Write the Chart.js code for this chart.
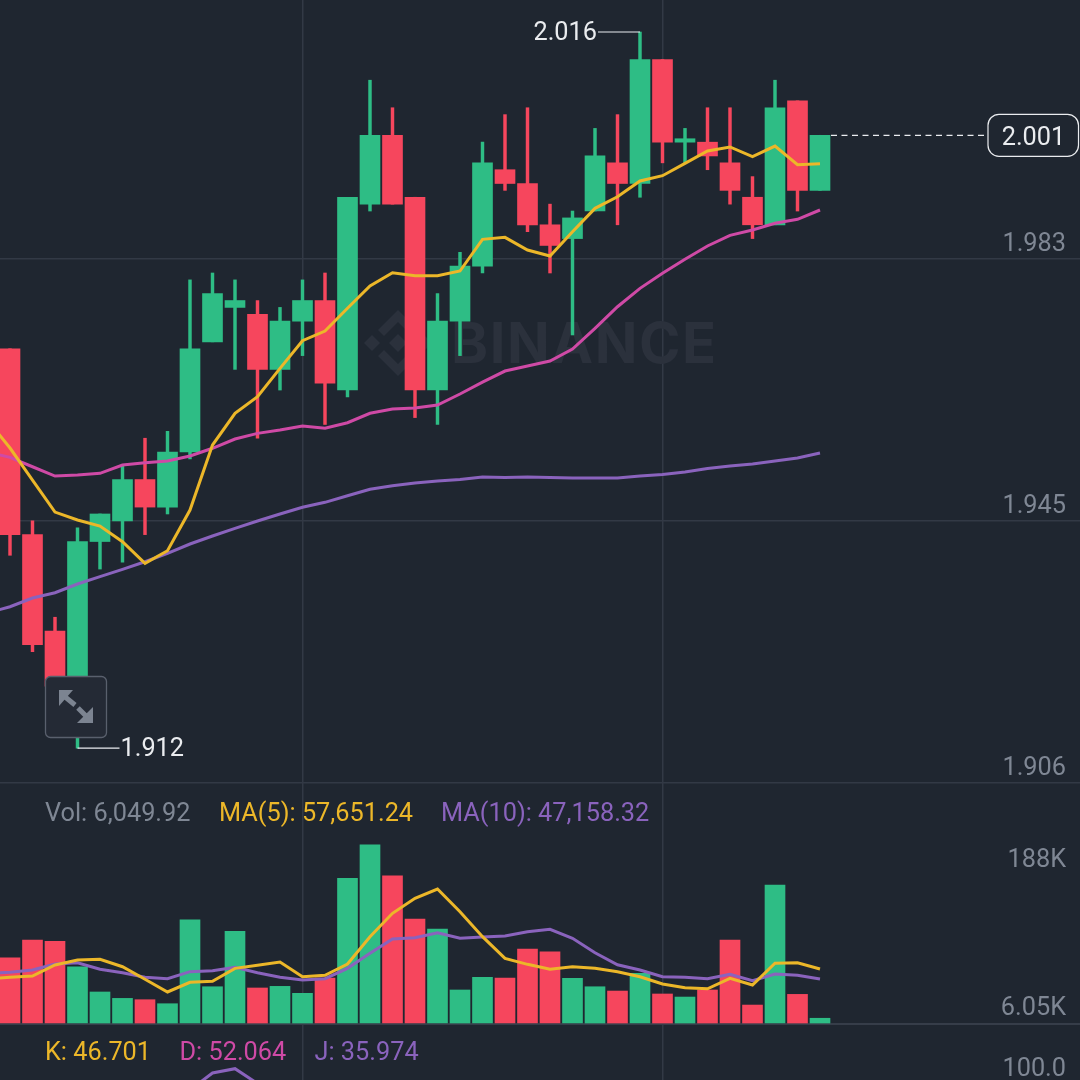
<!DOCTYPE html>
<html>
<head>
<meta charset="utf-8">
<title>Chart</title>
<script src="https://cdn.jsdelivr.net/npm/chart.js@4/dist/chart.umd.min.js"></script>
<style>
   html, body { margin: 0; padding: 0; background: #1f2630; }
   canvas { display: block; }
</style>
</head>
<body>
<canvas id="chartCanvas" width="1080" height="1080"></canvas>
<script>
const opens = [1.970, 1.943, 1.929, 1.921, 1.942, 1.945, 1.951, 1.947, 1.955, 1.971, 1.976, 1.975, 1.967, 1.974, 1.977, 1.964, 1.991, 2.001, 1.992, 1.964, 1.974, 1.982, 1.996, 1.994, 1.988, 1.986, 1.990, 1.997, 1.994, 2.012, 2.000, 2.000, 1.997, 1.992, 1.988, 2.006, 1.993];
const closes = [1.943, 1.927, 1.921, 1.942, 1.946, 1.951, 1.947, 1.955, 1.970, 1.978, 1.977, 1.967, 1.974, 1.977, 1.965, 1.992, 2.001, 1.991, 1.964, 1.974, 1.982, 1.997, 1.994, 1.988, 1.985, 1.989, 1.998, 1.994, 2.012, 2.000, 2.0005, 1.998, 1.993, 1.988, 2.005, 1.993, 2.001];
const highs = [1.970, 1.945, 1.931, 1.944, 1.946, 1.953, 1.957, 1.958, 1.980, 1.981, 1.980, 1.977, 1.976, 1.980, 1.981, 1.992, 2.009, 2.005, 1.992, 1.978, 1.984, 2.000, 2.004, 2.005, 1.991, 1.990, 2.002, 2.004, 2.016, 2.012, 2.002, 2.005, 2.005, 1.995, 2.009, 2.006, 2.001];
const lows = [1.940, 1.926, 1.920, 1.912, 1.938, 1.939, 1.943, 1.946, 1.954, 1.971, 1.967, 1.957, 1.964, 1.969, 1.959, 1.963, 1.990, 1.991, 1.960, 1.959, 1.969, 1.981, 1.993, 1.987, 1.981, 1.972, 1.990, 1.988, 1.992, 1.997, 1.997, 1.996, 1.991, 1.986, 1.988, 1.990, 1.993];

// the line arrays start one candle before the first visible one
const priceMa7 = [1.95965, 1.95558, 1.95093, 1.94628, 1.94512, 1.94425, 1.94197, 1.93883, 1.94066, 1.94657, 1.95601, 1.96062, 1.96303, 1.96715, 1.97116, 1.97257, 1.97587, 1.97911, 1.98104, 1.98060, 1.98060, 1.98129, 1.98589, 1.98618, 1.98434, 1.98347, 1.98700, 1.99039, 1.99208, 1.99436, 1.99513, 1.99693, 1.99872, 1.99930, 1.99789, 1.99944, 1.99673, 1.99687];
const priceMa25 = [1.95500, 1.95423, 1.95286, 1.95151, 1.95166, 1.95190, 1.95311, 1.95344, 1.95369, 1.95442, 1.95554, 1.95689, 1.95771, 1.95819, 1.95877, 1.95844, 1.95925, 1.96062, 1.96124, 1.96139, 1.96182, 1.96342, 1.96516, 1.96676, 1.96749, 1.96821, 1.96996, 1.97296, 1.97610, 1.97877, 1.98095, 1.98299, 1.98492, 1.98647, 1.98724, 1.98822, 1.98880, 1.99015];
const priceMa99 = [1.93161, 1.93253, 1.93379, 1.93456, 1.93583, 1.93689, 1.93796, 1.93906, 1.94028, 1.94164, 1.94280, 1.94392, 1.94498, 1.94599, 1.94697, 1.94769, 1.94865, 1.94958, 1.95010, 1.95050, 1.95079, 1.95100, 1.95137, 1.95129, 1.95137, 1.95129, 1.95122, 1.95122, 1.95122, 1.95151, 1.95173, 1.95209, 1.95260, 1.95296, 1.95325, 1.95369, 1.95413, 1.95485];

const volumes = [69.5, 88.1, 86.7, 60.1, 33.6, 26.9, 25.5, 21.3, 109.4, 39.1, 97.2, 37.8, 39.5, 32.2, 48.2, 152.8, 188, 155.5, 110.1, 99.6, 35.7, 49.0, 48.2, 78.7, 75.8, 47.9, 39.1, 34.6, 53.2, 31.5, 28.3, 35.7, 88.1, 19.9, 145.8, 31.1, 6.05];
const volumeMa5 = [47.2, 49.0, 50.3, 61.9, 67.1, 67.9, 60.1, 46.9, 33.6, 43.7, 44.8, 58.4, 61.6, 65.0, 49.6, 51.1, 62.9, 91.6, 116.1, 131.8, 141.6, 117.8, 91.6, 68.9, 62.6, 57.4, 60.1, 58.4, 54.9, 49.6, 42.0, 38.1, 37.0, 47.9, 40.9, 63.7, 64.3, 57.65];
const volumeMa10 = [53.5, 54.2, 56.6, 62.9, 64.3, 57.4, 53.8, 49.0, 47.5, 54.9, 55.9, 59.5, 53.8, 49.0, 46.1, 47.5, 58.4, 74.1, 89.1, 90.5, 95.8, 89.9, 91.2, 92.3, 96.8, 99.3, 89.9, 74.8, 62.2, 56.6, 49.6, 49.0, 47.5, 52.1, 45.4, 52.4, 51.1, 47.16];

// only the top of the J curve shows at the bottom edge
const jIndexes = [8, 9, 10, 11];
const jValues = [97, 105.5, 107.65, 100.25];

const priceTickValues = [1.98303, 1.94498, 1.90692];
const priceTickLabels = ["1.983", "1.945", "1.906"];
const timeGridIndexes = [13, 29];

const highIndex = 28;
const lowIndex = 3;
const highLabel = "2.016";
const lowLabel = "1.912";
const lastPrice = 2.001;
const lastPriceLabel = "2.001";
const volumeAxisValues = [188, 6.05];
const volumeAxisLabels = ["188K", "6.05K"];
const kdjAxisValue = 100;
const kdjAxisLabel = "100.0";
const volumeHeader = ["Vol: 6,049.92", "MA(5): 57,651.24", "MA(10): 47,158.32"];
const kdjHeader = ["K: 46.701", "D: 52.064", "J: 35.974"];

const BACKGROUND = "#1f2630";
const GREEN = "#2ebd85";
const RED = "#f6465d";
const YELLOW = "#ecb729";
const MAGENTA = "#cf4aa6";
const PURPLE = "#8a63bd";
const GRID = "#323945";
const AXIS_TEXT = "#7f8794";
const LABEL_TEXT = "#eaecef";
const FONT = "Roboto";
const FONT_SIZE = 25.3;

const candleColors = opens.map((open, i) => (closes[i] >= open ? GREEN : RED));

function barPoints(values)
{
   return values.map((value, i) => ({ x: i, y: value }));
}

function linePoints(values)
{
   return values.map((value, i) => ({ x: i - 1, y: value }));
}

function lineDataset(values, color, axis, order)
{
   return {
      type: "line",
      data: linePoints(values),
      yAxisID: axis,
      borderColor: color,
      borderWidth: 3,
      pointRadius: 0,
      tension: 0,
      order: order,
   };
}

function noAxisPadding(axis)
{
   axis.paddingTop = 0;
   axis.paddingBottom = 0;
   axis.paddingLeft = 0;
   axis.paddingRight = 0;
   if (axis.isHorizontal())
   {
      axis.height = 0;
   }
   else
   {
      axis.width = 0;
   }
}

function drawText(ctx, text, x, y, color, align)
{
   ctx.fillStyle = color;
   ctx.textAlign = align;
   ctx.textBaseline = "middle";
   ctx.fillText(text, x, y + 2);
}

function drawDiamond(ctx, x, y, r)
{
   ctx.beginPath();
   ctx.moveTo(x, y - r);
   ctx.lineTo(x + r, y);
   ctx.lineTo(x, y + r);
   ctx.lineTo(x - r, y);
   ctx.closePath();
   ctx.fill();
}

function drawChevron(ctx, x, y, direction)
{
   ctx.beginPath();
   ctx.moveTo(x, y + direction * 33);
   ctx.lineTo(x + 20, y + direction * 13);
   ctx.lineTo(x + 14, y + direction * 7);
   ctx.lineTo(x, y + direction * 21);
   ctx.lineTo(x - 14, y + direction * 7);
   ctx.lineTo(x - 20, y + direction * 13);
   ctx.closePath();
   ctx.fill();
}

const watermarkPlugin =
{
   id: "watermark",
   beforeDatasetsDraw(chart)
   {
      const ctx = chart.ctx;
      const x = 398;
      const y = 343;
      ctx.save();
      ctx.fillStyle = "#2b313c";
      drawDiamond(ctx, x, y, 9);
      drawDiamond(ctx, x - 26, y, 8);
      drawDiamond(ctx, x + 26, y, 8);
      drawChevron(ctx, x, y, -1);
      drawChevron(ctx, x, y, 1);
      ctx.font = "bold 56px Inter";
      ctx.letterSpacing = "1.6px";
      drawText(ctx, "BINANCE", 451, 344, "#2b313c", "left");
      ctx.restore();
   },
};

function drawExpandButton(ctx)
{
   ctx.beginPath();
   ctx.roundRect(45.5, 676.5, 61, 61, 5);
   ctx.fillStyle = "#242a35";
   ctx.fill();
   ctx.strokeStyle = "#59606d";
   ctx.lineWidth = 1.3;
   ctx.stroke();

   ctx.fillStyle = "#7c8491";
   ctx.beginPath();
   ctx.moveTo(59, 690);
   ctx.lineTo(73, 690);
   ctx.lineTo(59, 706);
   ctx.closePath();
   ctx.fill();
   ctx.beginPath();
   ctx.moveTo(93, 723);
   ctx.lineTo(93, 707);
   ctx.lineTo(77, 723);
   ctx.closePath();
   ctx.fill();
   ctx.strokeStyle = "#7c8491";
   ctx.lineWidth = 5;
   ctx.beginPath();
   ctx.moveTo(64, 696);
   ctx.lineTo(75, 705);
   ctx.moveTo(78, 708);
   ctx.lineTo(87, 717);
   ctx.stroke();
}

const overlayPlugin =
{
   id: "overlay",
   afterDatasetsDraw(chart)
   {
      const ctx = chart.ctx;
      const xScale = chart.scales.x;
      const priceScale = chart.scales.price;
      const volumeScale = chart.scales.volume;
      const kdjScale = chart.scales.kdj;

      ctx.save();
      ctx.font = FONT_SIZE + "px " + FONT;

      // high and low markers
      const highX = xScale.getPixelForValue(highIndex);
      const highY = priceScale.getPixelForValue(highs[highIndex]);
      const lowX = xScale.getPixelForValue(lowIndex);
      const lowY = priceScale.getPixelForValue(lows[lowIndex]);
      ctx.strokeStyle = LABEL_TEXT;
      ctx.lineWidth = 1.2;
      ctx.beginPath();
      ctx.moveTo(highX, highY);
      ctx.lineTo(highX - 42, highY);
      ctx.moveTo(lowX, lowY);
      ctx.lineTo(lowX + 42, lowY);
      ctx.stroke();
      drawText(ctx, highLabel, highX - 43, highY, LABEL_TEXT, "right");
      drawText(ctx, lowLabel, lowX + 43, lowY, LABEL_TEXT, "left");

      // last price line and box
      const lastY = priceScale.getPixelForValue(lastPrice);
      ctx.setLineDash([6, 4.5]);
      ctx.beginPath();
      ctx.moveTo(831, lastY);
      ctx.lineTo(984, lastY);
      ctx.stroke();
      ctx.setLineDash([]);
      ctx.beginPath();
      ctx.roundRect(988, lastY - 21, 90.5, 42, 11);
      ctx.fillStyle = BACKGROUND;
      ctx.fill();
      ctx.stroke();
      drawText(ctx, lastPriceLabel, 1033.5, lastY + 1, LABEL_TEXT, "center");

      // axis labels of the lower panels sit away from their values
      drawText(ctx, volumeAxisLabels[0], 1066, volumeScale.getPixelForValue(volumeAxisValues[0]) + 13.5, AXIS_TEXT, "right");
      drawText(ctx, volumeAxisLabels[1], 1066, volumeScale.getPixelForValue(volumeAxisValues[1]) - 11.5, AXIS_TEXT, "right");
      drawText(ctx, kdjAxisLabel, 1066, kdjScale.getPixelForValue(kdjAxisValue) - 16, AXIS_TEXT, "right");

      drawText(ctx, volumeHeader[0], 45, 813, AXIS_TEXT, "left");
      drawText(ctx, volumeHeader[1], 219, 813, YELLOW, "left");
      drawText(ctx, volumeHeader[2], 441, 813, PURPLE, "left");
      drawText(ctx, kdjHeader[0], 45, 1052, YELLOW, "left");
      drawText(ctx, kdjHeader[1], 179.5, 1052, MAGENTA, "left");
      drawText(ctx, kdjHeader[2], 314.5, 1052, PURPLE, "left");

      drawExpandButton(ctx);
      ctx.restore();
   },
};

new Chart(document.getElementById("chartCanvas").getContext("2d"),
{
   data:
   {
      datasets:
      [
         lineDataset(priceMa7, YELLOW, "price", 0),
         lineDataset(priceMa25, MAGENTA, "price", 1),
         lineDataset(priceMa99, PURPLE, "price", 2),
         lineDataset(volumeMa5, YELLOW, "volume", 0),
         lineDataset(volumeMa10, PURPLE, "volume", 1),
         {
            type: "line",
            data: jIndexes.map((index, i) => ({ x: index, y: jValues[i] })),
            yAxisID: "kdj",
            borderColor: PURPLE,
            borderWidth: 3,
            pointRadius: 0,
            tension: 0,
            order: 0,
         },
         {
            type: "bar",
            data: barPoints(opens.map((open, i) => [open, closes[i]])),
            yAxisID: "price",
            backgroundColor: candleColors,
            barThickness: 20,
            grouped: false,
            order: 3,
         },
         {
            type: "bar",
            data: barPoints(lows.map((low, i) => [low, highs[i]])),
            yAxisID: "price",
            backgroundColor: candleColors,
            barThickness: 2.8,
            grouped: false,
            order: 4,
         },
         {
            type: "bar",
            data: barPoints(volumes),
            yAxisID: "volume",
            backgroundColor: candleColors,
            barThickness: 20,
            grouped: false,
            order: 3,
         },
      ],
   },
   options:
   {
      responsive: false,
      animation: false,
      events: [],
      layout: { padding: 0, autoPadding: false },
      font: { family: FONT },
      plugins: { legend: { display: false }, tooltip: { enabled: false } },
      scales:
      {
         x:
         {
            type: "linear",
            offset: false,
            min: -0.44444,
            max: 47.55556,
            afterBuildTicks: (axis) => { axis.ticks = timeGridIndexes.map((value) => ({ value: value })); },
            afterFit: noAxisPadding,
            grid: { color: GRID, lineWidth: 1.5, drawTicks: false, offset: false },
            border: { display: false },
            ticks: { display: false },
         },
         price:
         {
            type: "linear",
            position: "right",
            min: 1.86379,
            max: 2.02065,
            afterBuildTicks: (axis) => { axis.ticks = priceTickValues.map((value) => ({ value: value })); },
            afterFit: noAxisPadding,
            grid: { color: GRID, lineWidth: 1.5, drawTicks: false },
            border: { display: false },
            ticks:
            {
               mirror: true,
               padding: -14,
               labelOffset: -14,
               color: AXIS_TEXT,
               font: { family: FONT, size: FONT_SIZE },
               callback: (value, index) => priceTickLabels[index],
            },
         },
         volume:
         {
            type: "linear",
            position: "right",
            min: -58.7,
            max: 1073.9,
            afterBuildTicks: (axis) => { axis.ticks = [{ value: 0 }]; },
            afterFit: noAxisPadding,
            grid: { color: "#363d49", lineWidth: 2, drawTicks: false },
            border: { display: false },
            ticks: { display: false },
         },
         kdj:
         {
            type: "linear",
            position: "right",
            min: 102,
            max: 642,
            display: false,
         },
      },
   },
   plugins: [watermarkPlugin, overlayPlugin],
});
</script>
</body>
</html>
